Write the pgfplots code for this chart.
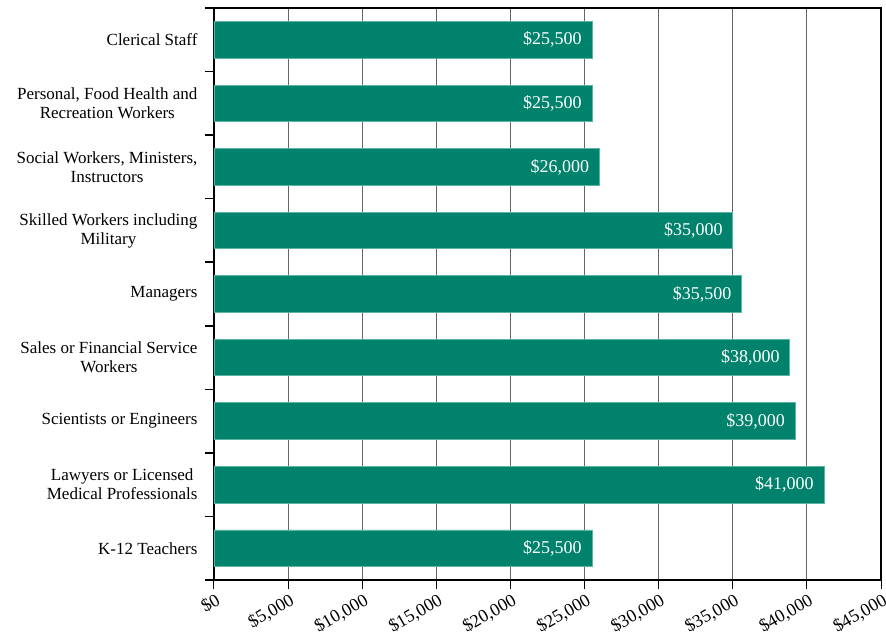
\documentclass[border=0pt]{standalone}
\usepackage{fontspec}
\setmainfont{Liberation Serif}
\usepackage{pgfplots}
\usepackage{pgfplotstable}
\pgfplotsset{compat=1.18}
\usetikzlibrary{calc}
\definecolor{barteal}{HTML}{00826C}
\definecolor{baredge}{HTML}{5CB5A3}
\definecolor{gridgray}{HTML}{666666}

% y: 0 = top row, bar length in dollars, label as printed on the bar
\pgfplotstableread{
y x label
0 25500 {\$25,500}
1 25500 {\$25,500}
2 26000 {\$26,000}
3 35000 {\$35,000}
4 35600 {\$35,500}
5 38850 {\$38,000}
6 39200 {\$39,000}
7 41150 {\$41,000}
8 25500 {\$25,500}
}\salarydata

\begin{document}
\begin{tikzpicture}
\begin{axis}[
    name=ax,
    scale only axis,
    width=667pt, height=572pt,
    xmin=0, xmax=45000,
    ymin=-0.5, ymax=8.5,
    y dir=reverse,
    xbar, bar width=36.6pt,
    axis line style={line width=2.5pt, black},
    xtick={0,5000,...,45000},
    xticklabels={\$0,{\$5,000},{\$10,000},{\$15,000},{\$20,000},{\$25,000},{\$30,000},{\$35,000},{\$40,000},{\$45,000}},
    x tick label style={rotate=30, anchor=north east, font=\fontsize{18}{20}\selectfont, inner sep=1pt, yshift=-2pt},
    xtick pos=bottom, ytick pos=left,
    tick align=outside,
    major tick length=9pt,
    xmajorgrids,
    major grid style={gridgray, line width=1.2pt},
    major x tick style={black, line width=1pt},
    ytick={0,...,8},
    major y tick style={draw=none},
    yticklabels={
        Clerical Staff,
        {Personal, Food Health and\\Recreation Workers},
        {Social Workers, Ministers,\\Instructors},
        {Skilled Workers including\\Military},
        Managers,
        {Sales or Financial Service\\Workers},
        Scientists or Engineers,
        {Lawyers or Licensed\\Medical Professionals},
        K-12 Teachers},
    y tick label style={align=center, font=\fontsize{17}{19}\selectfont, xshift=-4pt},
    minor ytick={-0.5,0.5,...,8.5},
    minor tick length=9pt,
    minor y tick style={black, line width=1.5pt},
    point meta=explicit symbolic,
    nodes near coords,
    every node near coord/.append style={anchor=east, xshift=-6.5pt, text=white, font=\fontsize{18}{20}\selectfont},
]
\addplot[fill=barteal, draw=baredge, line width=0.8pt]
    table[x=x, y=y, meta=label] {\salarydata};
\end{axis}
\pgfresetboundingbox
\path[use as bounding box] ($(ax.south west)+(-214pt,-57pt)$) rectangle ($(ax.north east)+(5pt,8pt)$);
\end{tikzpicture}
\end{document}
